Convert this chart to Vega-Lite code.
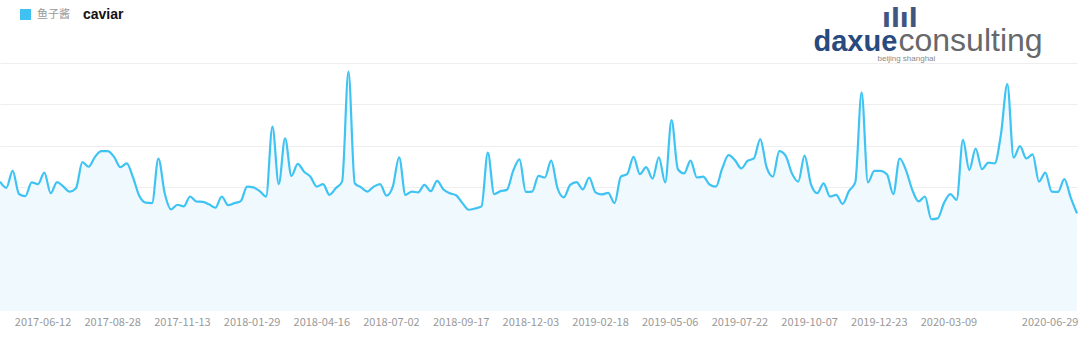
{
  "$schema": "https://vega.github.io/schema/vega-lite/v6.json",
  "width": 1077,
  "height": 248,
  "autosize": {"type": "none"},
  "padding": {"left": 0, "top": 63, "right": 3, "bottom": 26},
  "background": "white",
  "config": {"view": {"stroke": null}, "font": "Liberation Sans"},
  "title": {"text": "ılıl", "anchor": "start", "frame": "group", "dx": 882, "dy": 44, "offset": 0, "baseline": "alphabetic", "font": "DejaVu Sans", "fontSize": 26, "fontWeight": "bold", "color": "#3f5683"},
  "data": {"values": [
    {"date": "2017-04-26", "value": 313}, {"date": "2017-05-03", "value": 298}, {"date": "2017-05-10", "value": 339}, {"date": "2017-05-17", "value": 283},
    {"date": "2017-05-24", "value": 278}, {"date": "2017-05-31", "value": 311}, {"date": "2017-06-07", "value": 307}, {"date": "2017-06-14", "value": 335},
    {"date": "2017-06-21", "value": 285}, {"date": "2017-06-28", "value": 312}, {"date": "2017-07-05", "value": 301}, {"date": "2017-07-12", "value": 289},
    {"date": "2017-07-19", "value": 297}, {"date": "2017-07-26", "value": 360}, {"date": "2017-08-02", "value": 349}, {"date": "2017-08-09", "value": 373},
    {"date": "2017-08-16", "value": 387}, {"date": "2017-08-23", "value": 387}, {"date": "2017-08-30", "value": 373}, {"date": "2017-09-06", "value": 348},
    {"date": "2017-09-13", "value": 357}, {"date": "2017-09-20", "value": 323}, {"date": "2017-09-27", "value": 278}, {"date": "2017-10-04", "value": 262},
    {"date": "2017-10-11", "value": 261}, {"date": "2017-10-18", "value": 369}, {"date": "2017-10-25", "value": 285}, {"date": "2017-11-01", "value": 246},
    {"date": "2017-11-08", "value": 257}, {"date": "2017-11-15", "value": 253}, {"date": "2017-11-22", "value": 277}, {"date": "2017-11-29", "value": 265},
    {"date": "2017-12-06", "value": 264}, {"date": "2017-12-13", "value": 258}, {"date": "2017-12-20", "value": 250}, {"date": "2017-12-27", "value": 277},
    {"date": "2018-01-03", "value": 256}, {"date": "2018-01-10", "value": 261}, {"date": "2018-01-17", "value": 266}, {"date": "2018-01-24", "value": 301},
    {"date": "2018-01-31", "value": 299}, {"date": "2018-02-07", "value": 290}, {"date": "2018-02-14", "value": 277}, {"date": "2018-02-21", "value": 446},
    {"date": "2018-02-28", "value": 307}, {"date": "2018-03-07", "value": 418}, {"date": "2018-03-14", "value": 327}, {"date": "2018-03-21", "value": 356},
    {"date": "2018-03-28", "value": 337}, {"date": "2018-04-04", "value": 325}, {"date": "2018-04-11", "value": 301}, {"date": "2018-04-18", "value": 307},
    {"date": "2018-04-25", "value": 281}, {"date": "2018-05-02", "value": 297}, {"date": "2018-05-09", "value": 313}, {"date": "2018-05-16", "value": 579},
    {"date": "2018-05-23", "value": 309}, {"date": "2018-05-30", "value": 299}, {"date": "2018-06-06", "value": 289}, {"date": "2018-06-13", "value": 301},
    {"date": "2018-06-20", "value": 307}, {"date": "2018-06-27", "value": 279}, {"date": "2018-07-04", "value": 301}, {"date": "2018-07-11", "value": 372},
    {"date": "2018-07-18", "value": 281}, {"date": "2018-07-25", "value": 289}, {"date": "2018-08-01", "value": 287}, {"date": "2018-08-08", "value": 305},
    {"date": "2018-08-15", "value": 290}, {"date": "2018-08-22", "value": 315}, {"date": "2018-08-29", "value": 294}, {"date": "2018-09-05", "value": 285},
    {"date": "2018-09-12", "value": 280}, {"date": "2018-09-19", "value": 261}, {"date": "2018-09-26", "value": 245}, {"date": "2018-10-03", "value": 248},
    {"date": "2018-10-10", "value": 253}, {"date": "2018-10-17", "value": 383}, {"date": "2018-10-24", "value": 283}, {"date": "2018-10-31", "value": 290},
    {"date": "2018-11-07", "value": 293}, {"date": "2018-11-14", "value": 339}, {"date": "2018-11-21", "value": 367}, {"date": "2018-11-28", "value": 288},
    {"date": "2018-12-05", "value": 289}, {"date": "2018-12-12", "value": 327}, {"date": "2018-12-19", "value": 323}, {"date": "2018-12-26", "value": 364},
    {"date": "2019-01-02", "value": 297}, {"date": "2019-01-09", "value": 275}, {"date": "2019-01-16", "value": 305}, {"date": "2019-01-23", "value": 312},
    {"date": "2019-01-30", "value": 294}, {"date": "2019-02-06", "value": 323}, {"date": "2019-02-13", "value": 287}, {"date": "2019-02-20", "value": 282},
    {"date": "2019-02-27", "value": 286}, {"date": "2019-03-06", "value": 261}, {"date": "2019-03-13", "value": 325}, {"date": "2019-03-20", "value": 331},
    {"date": "2019-03-27", "value": 373}, {"date": "2019-04-03", "value": 331}, {"date": "2019-04-10", "value": 348}, {"date": "2019-04-17", "value": 320},
    {"date": "2019-04-24", "value": 372}, {"date": "2019-05-01", "value": 311}, {"date": "2019-05-08", "value": 462}, {"date": "2019-05-15", "value": 343},
    {"date": "2019-05-22", "value": 333}, {"date": "2019-05-29", "value": 364}, {"date": "2019-06-05", "value": 323}, {"date": "2019-06-12", "value": 325},
    {"date": "2019-06-19", "value": 306}, {"date": "2019-06-26", "value": 301}, {"date": "2019-07-03", "value": 345}, {"date": "2019-07-10", "value": 377},
    {"date": "2019-07-17", "value": 365}, {"date": "2019-07-24", "value": 345}, {"date": "2019-07-31", "value": 363}, {"date": "2019-08-07", "value": 369},
    {"date": "2019-08-14", "value": 416}, {"date": "2019-08-21", "value": 348}, {"date": "2019-08-28", "value": 325}, {"date": "2019-09-04", "value": 387},
    {"date": "2019-09-11", "value": 376}, {"date": "2019-09-18", "value": 333}, {"date": "2019-09-25", "value": 313}, {"date": "2019-10-02", "value": 376},
    {"date": "2019-10-09", "value": 307}, {"date": "2019-10-16", "value": 285}, {"date": "2019-10-23", "value": 309}, {"date": "2019-10-30", "value": 277},
    {"date": "2019-11-06", "value": 281}, {"date": "2019-11-13", "value": 259}, {"date": "2019-11-20", "value": 290}, {"date": "2019-11-27", "value": 311},
    {"date": "2019-12-04", "value": 529}, {"date": "2019-12-11", "value": 311}, {"date": "2019-12-18", "value": 339}, {"date": "2019-12-25", "value": 339},
    {"date": "2020-01-01", "value": 331}, {"date": "2020-01-08", "value": 283}, {"date": "2020-01-15", "value": 369}, {"date": "2020-01-22", "value": 341},
    {"date": "2020-01-29", "value": 293}, {"date": "2020-02-05", "value": 265}, {"date": "2020-02-12", "value": 277}, {"date": "2020-02-19", "value": 222},
    {"date": "2020-02-26", "value": 224}, {"date": "2020-03-04", "value": 261}, {"date": "2020-03-11", "value": 283}, {"date": "2020-03-18", "value": 269},
    {"date": "2020-03-25", "value": 414}, {"date": "2020-04-01", "value": 341}, {"date": "2020-04-08", "value": 393}, {"date": "2020-04-15", "value": 343},
    {"date": "2020-04-22", "value": 359}, {"date": "2020-04-29", "value": 357}, {"date": "2020-05-06", "value": 428}, {"date": "2020-05-13", "value": 549},
    {"date": "2020-05-20", "value": 371}, {"date": "2020-05-27", "value": 399}, {"date": "2020-06-03", "value": 369}, {"date": "2020-06-10", "value": 379},
    {"date": "2020-06-17", "value": 313}, {"date": "2020-06-24", "value": 335}, {"date": "2020-07-01", "value": 289}, {"date": "2020-07-08", "value": 288},
    {"date": "2020-07-15", "value": 319}, {"date": "2020-07-22", "value": 275}, {"date": "2020-07-29", "value": 236}
  ]},
  "layer": [
    {
      "mark": {"type": "area", "interpolate": "monotone", "color": "#f0f9fd"},
      "encoding": {
        "x": {
          "field": "date", "type": "temporal",
          "scale": {"type": "utc", "domain": [{"year": 2017, "month": 4, "date": 26, "utc": true}, {"year": 2020, "month": 7, "date": 29, "utc": true}]},
          "axis": {
            "orient": "bottom",
            "values": [
              {"year": 2017, "month": 6, "date": 12, "utc": true}, {"year": 2017, "month": 8, "date": 28, "utc": true},
              {"year": 2017, "month": 11, "date": 13, "utc": true}, {"year": 2018, "month": 1, "date": 29, "utc": true},
              {"year": 2018, "month": 4, "date": 16, "utc": true}, {"year": 2018, "month": 7, "date": 2, "utc": true},
              {"year": 2018, "month": 9, "date": 17, "utc": true}, {"year": 2018, "month": 12, "date": 3, "utc": true},
              {"year": 2019, "month": 2, "date": 18, "utc": true}, {"year": 2019, "month": 5, "date": 6, "utc": true},
              {"year": 2019, "month": 7, "date": 22, "utc": true}, {"year": 2019, "month": 10, "date": 7, "utc": true},
              {"year": 2019, "month": 12, "date": 23, "utc": true}, {"year": 2020, "month": 3, "date": 9, "utc": true},
              {"year": 2020, "month": 6, "date": 29, "utc": true}
            ],
            "format": "%Y-%m-%d",
            "labelFont": "Noto Sans CJK SC", "labelFontSize": 11, "labelColor": "#999999",
            "labelPadding": 5, "labelFlush": 30, "labelFlushOffset": 28, "labelOverlap": false,
            "domain": false, "ticks": false, "tickSize": 0, "grid": false,
            "title": "@百度指数", "titleX": 1010, "titleY": -11, "titleAlign": "left", "titleBaseline": "alphabetic",
            "titleAnchor": null, "titleFont": "Noto Sans CJK SC", "titleFontSize": 11, "titleFontWeight": "normal", "titleColor": "#c4c4c4"
          }
        },
        "y": {
          "field": "value", "type": "quantitative",
          "scale": {"domain": [0, 600], "nice": false},
          "axis": {
            "orient": "left", "values": [100, 200, 300, 400, 500, 600],
            "grid": true, "gridColor": "#eeeeee", "gridWidth": 1,
            "domain": false, "ticks": false, "labels": false,
            "title": "daxue", "titleX": 813, "titleY": -13, "titleAngle": 0, "titleAlign": "left", "titleBaseline": "alphabetic",
            "titleAnchor": null, "titleFont": "Liberation Sans", "titleFontSize": 29, "titleFontWeight": "bold", "titleColor": "#284a7e"
          }
        }
      }
    },
    {
      "mark": {"type": "line", "interpolate": "monotone", "strokeWidth": 2.2},
      "encoding": {
        "x": {
          "field": "date", "type": "temporal",
          "axis": {
            "orient": "top", "labels": false, "ticks": false, "domain": false, "grid": false,
            "title": "consulting", "titleX": 898, "titleY": -13, "titleAlign": "left", "titleBaseline": "alphabetic",
            "titleAnchor": null, "titleFont": "Liberation Sans", "titleFontSize": 32, "titleFontWeight": "normal", "titleColor": "#67686b"
          }
        },
        "y": {
          "field": "value", "type": "quantitative",
          "axis": {
            "orient": "right", "labels": false, "ticks": false, "domain": false, "grid": false,
            "title": "beijing shanghai", "titleX": -200, "titleY": -3, "titleAngle": 0, "titleAlign": "left", "titleBaseline": "alphabetic",
            "titleAnchor": null, "titleFont": "Liberation Sans", "titleFontSize": 8, "titleFontWeight": "normal", "titleColor": "#8a8a8a"
          }
        },
        "color": {
          "datum": "鱼子酱",
          "scale": {"range": ["#3fc3f3"]},
          "legend": {
            "orient": "none", "legendX": 20, "legendY": -54, "direction": "horizontal", "padding": 0,
            "title": "caviar", "titleOrient": "right", "titlePadding": 13,
            "titleFont": "Liberation Sans", "titleFontSize": 14, "titleFontWeight": "bold", "titleColor": "#111111",
            "labelFont": "Noto Sans CJK SC", "labelFontSize": 11, "labelColor": "#999999", "labelOffset": 6,
            "symbolType": "square", "symbolSize": 121, "symbolFillColor": "#3fc1f2", "symbolStrokeWidth": 0,
            "encode": {"symbols": {"update": {"fill": {"value": "#3fc1f2"}, "fillOpacity": {"value": 1}, "strokeWidth": {"value": 0}}}}
          }
        }
      }
    }
  ],
  "resolve": {"axis": {"x": "independent", "y": "independent"}}
}
